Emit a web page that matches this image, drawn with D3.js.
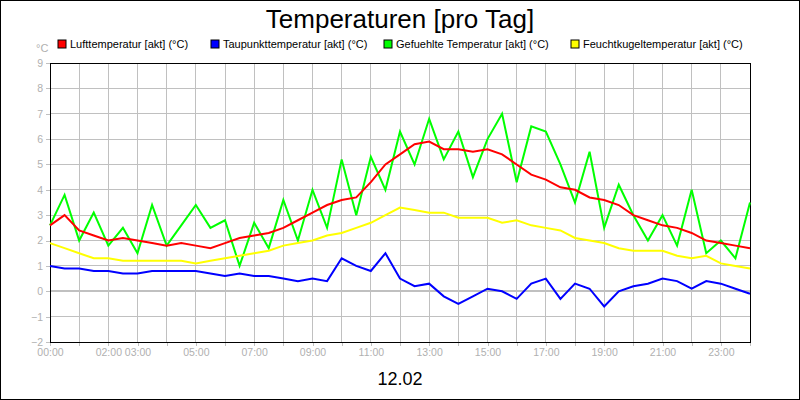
<!DOCTYPE html>
<html><head><meta charset="utf-8">
<script src="https://cdn.jsdelivr.net/npm/d3@7"></script>
<style>body{margin:0;background:#fff}svg{display:block;font-family:"Liberation Sans",Arial,sans-serif}</style>
</head><body>
<script>
const hours = d3.range(0, 24.01, 0.5);
const luft = [2.6,3.0,2.4,2.2,2.0,2.1,2.0,1.9,1.8,1.9,1.8,1.7,1.9,2.1,2.2,2.3,2.5,2.8,3.1,3.4,3.6,3.7,4.3,5.0,5.4,5.8,5.9,5.6,5.6,5.5,5.6,5.4,5.0,4.6,4.4,4.1,4.0,3.7,3.6,3.4,3.0,2.8,2.6,2.5,2.3,2.0,1.9,1.8,1.7];
const taupunkt = [1.0,0.9,0.9,0.8,0.8,0.7,0.7,0.8,0.8,0.8,0.8,0.7,0.6,0.7,0.6,0.6,0.5,0.4,0.5,0.4,1.3,1.0,0.8,1.5,0.5,0.2,0.3,-0.2,-0.5,-0.2,0.1,0.0,-0.3,0.3,0.5,-0.3,0.3,0.1,-0.6,0.0,0.2,0.3,0.5,0.4,0.1,0.4,0.3,0.1,-0.1];
const gefuehlt = [2.6,3.8,2.0,3.1,1.8,2.5,1.5,3.4,1.8,2.6,3.4,2.5,2.8,1.0,2.7,1.7,3.6,2.0,4.0,2.5,5.2,3.0,5.3,4.0,6.3,5.0,6.8,5.2,6.3,4.5,6.0,7.0,4.3,6.5,6.3,5.0,3.5,5.5,2.5,4.2,3.0,2.0,3.0,1.8,4.0,1.5,2.0,1.3,3.5];
const feucht = [1.9,1.7,1.5,1.3,1.3,1.2,1.2,1.2,1.2,1.2,1.1,1.2,1.3,1.4,1.5,1.6,1.8,1.9,2.0,2.2,2.3,2.5,2.7,3.0,3.3,3.2,3.1,3.1,2.9,2.9,2.9,2.7,2.8,2.6,2.5,2.4,2.1,2.0,1.9,1.7,1.6,1.6,1.6,1.4,1.3,1.4,1.1,1.0,0.9];
const tickHours = [0,2,3,5,7,9,11,13,15,17,19,21,23];
const yTicks = d3.range(-2, 10);
const seriesNames = ["Lufttemperatur [akt] (°C)","Taupunkttemperatur [akt] (°C)","Gefuehlte Temperatur [akt] (°C)","Feuchtkugeltemperatur [akt] (°C)"];
const colors = ["#ff0000","#0000ff","#00ff00","#ffff00"];
const legendX = [57,210,383,570];

const svg = d3.select("body").append("svg").attr("width",800).attr("height",400);
svg.append("rect").attr("x",0.5).attr("y",0.5).attr("width",799).attr("height",399).attr("fill","#fff").attr("stroke","#000");
const x = d3.scaleLinear().domain([0,24]).range([50,750]);
const y = d3.scaleLinear().domain([-2,9]).range([342,63]);

// grid
svg.append("g").attr("shape-rendering","crispEdges").selectAll("line").data(d3.range(1,24)).join("line")
  .attr("x1",d=>x(d)).attr("x2",d=>x(d)).attr("y1",63).attr("y2",342).attr("stroke","#c0c0c0");
svg.append("g").attr("shape-rendering","crispEdges").selectAll("line").data(yTicks.filter(d=>d>-2&&d<9)).join("line")
  .attr("x1",50).attr("x2",750).attr("y1",d=>y(d)).attr("y2",d=>y(d))
  .attr("stroke","#c0c0c0").attr("stroke-width",d=>d===0?2:1);

// axes
const ya = svg.append("g").attr("transform","translate(50,0)")
  .call(d3.axisLeft(y).tickValues(yTicks).tickSize(4).tickFormat(d3.format("d")));
const xa = svg.append("g").attr("transform","translate(0,342)")
  .call(d3.axisBottom(x).tickValues(d3.range(0,25)).tickSize(4)
    .tickFormat(d=>tickHours.includes(d)?String(d).padStart(2,"0")+":00":""));
[ya,xa].forEach(a=>{a.select(".domain").remove();a.selectAll("line").attr("stroke","#c0c0c0").attr("shape-rendering","crispEdges");
  a.selectAll("text").attr("fill","#b0b0b0").attr("font-size",10.5).attr("font-family","inherit");});
svg.append("rect").attr("x",50).attr("y",63).attr("width",700).attr("height",279).attr("fill","none").attr("stroke","#000").attr("shape-rendering","crispEdges");

const line = d3.line().x((d,i)=>x(hours[i])).y(d=>y(d));
[[gefuehlt,colors[2]],[luft,colors[0]],[feucht,colors[3]],[taupunkt,colors[1]]].forEach(([s,c])=>{
  svg.append("path").attr("d",line(s)).attr("fill","none").attr("stroke",c).attr("stroke-width",2);
});

// text
svg.append("text").attr("x",400).attr("y",28).attr("text-anchor","middle").attr("font-size",26).text("Temperaturen [pro Tag]");
svg.append("text").attr("x",36).attr("y",52).attr("font-size",11).attr("fill","#b0b0b0").text("°C");
const lg = svg.append("g").selectAll("g").data(seriesNames).join("g").attr("transform",(d,i)=>`translate(${legendX[i]},40)`);
lg.append("rect").attr("x",1).attr("y",0).attr("width",8).attr("height",8).attr("fill",(d,i)=>colors[i]).attr("stroke","#000");
lg.append("text").attr("x",13).attr("y",8).attr("font-size",11).text(d=>d);
svg.append("text").attr("x",400).attr("y",385).attr("text-anchor","middle").attr("font-size",18).text("12.02");
</script>
</body></html>
